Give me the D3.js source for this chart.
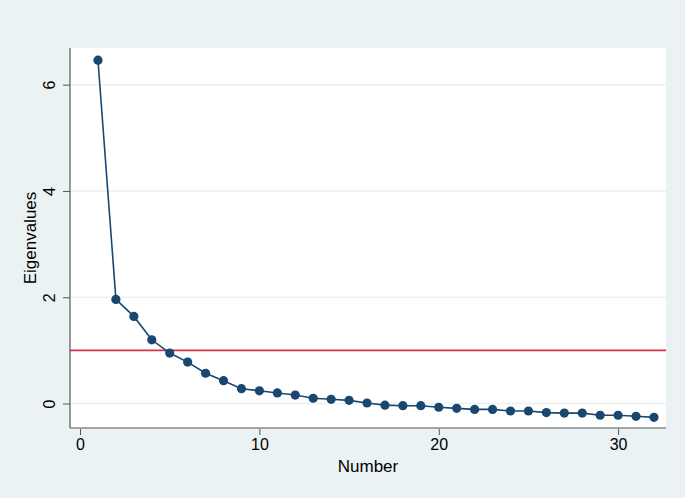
<!DOCTYPE html>
<html><head><meta charset="utf-8">
<script src="https://cdn.jsdelivr.net/npm/d3@7"></script>
<style>html,body{margin:0;padding:0;background:#eaf2f3;}svg{display:block;}</style>
</head><body>
<script>
const numbers = d3.range(1, 33);
const eigenvalues = [6.46, 1.96, 1.64, 1.20, 0.95, 0.78, 0.57, 0.43, 0.28, 0.24,
  0.20, 0.16, 0.10, 0.08, 0.06, 0.01, -0.03, -0.04, -0.04, -0.07,
  -0.09, -0.11, -0.11, -0.14, -0.14, -0.17, -0.18, -0.18, -0.22, -0.22,
  -0.24, -0.26];
const xTicks = [0, 10, 20, 30];
const yTicks = [0, 2, 4, 6];
const refLine = 1;

const W = 685, H = 498;
const plot = {left: 70, right: 666, top: 48, bottom: 428};
const svg = d3.select("body").append("svg").attr("width", W).attr("height", H);
svg.append("rect").attr("width", W).attr("height", H).attr("fill", "#eaf2f3");

const x = d3.scaleLinear().domain([-0.56, 32.67]).range([plot.left, plot.right]);
const y = d3.scaleLinear().domain([-0.46, 6.69]).range([plot.bottom, plot.top]);

svg.append("rect").attr("x", plot.left).attr("y", plot.top)
  .attr("width", plot.right - plot.left).attr("height", plot.bottom - plot.top)
  .attr("fill", "#ffffff");

// gridlines
svg.append("g").selectAll("line").data(yTicks).join("line")
  .attr("x1", plot.left).attr("x2", plot.right)
  .attr("y1", d => y(d)).attr("y2", d => y(d))
  .attr("stroke", "#eaf2f3").attr("stroke-width", 1.5);

// reference line
svg.append("line").attr("x1", plot.left).attr("x2", plot.right)
  .attr("y1", y(refLine)).attr("y2", y(refLine))
  .attr("stroke", "#d2334c").attr("stroke-width", 1.6);

// data line
const pts = numbers.map((n, i) => [n, eigenvalues[i]]);
svg.append("path").datum(pts)
  .attr("d", d3.line().x(d => x(d[0])).y(d => y(d[1])))
  .attr("fill", "none").attr("stroke", "#1a476f").attr("stroke-width", 1.6);
svg.append("g").selectAll("circle").data(pts).join("circle")
  .attr("cx", d => x(d[0])).attr("cy", d => y(d[1])).attr("r", 4.6)
  .attr("fill", "#1a476f");

// axes
const font = "'Liberation Sans', Arial, sans-serif";
const xAxis = d3.axisBottom(x).tickValues(xTicks).tickSize(7).tickPadding(4);
const gx = svg.append("g").attr("transform", `translate(0,${plot.bottom})`).call(xAxis);
gx.select(".domain").remove();
gx.selectAll(".tick line").attr("stroke", "#555").attr("y1", 1);
gx.selectAll(".tick text").attr("fill", "#000").style("font-family", font).style("font-size", "16px");
svg.append("line").attr("x1", plot.left).attr("x2", plot.right)
  .attr("y1", plot.bottom).attr("y2", plot.bottom).attr("stroke", "#555").attr("stroke-width", 1.2);

const yAxis = d3.axisLeft(y).tickValues(yTicks).tickSize(7).tickPadding(0);
const gy = svg.append("g").attr("transform", `translate(${plot.left},0)`).call(yAxis);
gy.select(".domain").remove();
gy.selectAll(".tick line").attr("stroke", "#555");
gy.selectAll(".tick text").attr("fill", "#000").style("font-family", font).style("font-size", "16px")
  .attr("transform", "rotate(-90)").attr("x", 0).attr("y", -15)
  .attr("dy", 0).attr("text-anchor", "middle");
svg.append("line").attr("x1", plot.left).attr("x2", plot.left)
  .attr("y1", plot.top).attr("y2", plot.bottom).attr("stroke", "#555").attr("stroke-width", 1.2);

// titles
svg.append("text").attr("x", (plot.left + plot.right) / 2).attr("y", 472)
  .attr("text-anchor", "middle").style("font-family", font).style("font-size", "17px")
  .text("Number");
svg.append("text").attr("transform", `translate(35.5,${(plot.top + plot.bottom) / 2}) rotate(-90)`)
  .attr("text-anchor", "middle").style("font-family", font).style("font-size", "17px")
  .text("Eigenvalues");
</script>
</body></html>
